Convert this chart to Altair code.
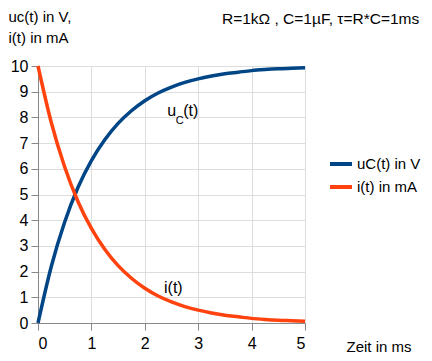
import altair as alt
import pandas as pd

t_ms = [0, 0.25, 0.5, 0.75, 1, 1.25, 1.5, 1.75, 2, 2.25, 2.5, 2.75, 3, 3.25, 3.5, 3.75, 4, 4.25, 4.5, 4.75, 5]
u_c = [0, 2.21, 3.93, 5.28, 6.32, 7.13, 7.77, 8.26, 8.65, 8.95, 9.18, 9.36, 9.50, 9.61, 9.70, 9.76, 9.82, 9.86, 9.89, 9.91, 9.93]
i_ma = [10, 7.79, 6.07, 4.72, 3.68, 2.87, 2.23, 1.74, 1.35, 1.05, 0.82, 0.64, 0.50, 0.39, 0.30, 0.24, 0.18, 0.14, 0.11, 0.09, 0.07]
series = ["uC(t) in V", "i(t) in mA"]
colors = ["#004586", "#ff420e"]
x_ticks = [0, 1, 2, 3, 4, 5]
y_ticks = list(range(0, 11))

rows = []
for k, t in enumerate(t_ms):
    rows.append({"t": t, "v": u_c[k], "s": series[0]})
    rows.append({"t": t, "v": i_ma[k], "s": series[1]})
df = pd.DataFrame(rows)

FONT = "Liberation Sans"

x_enc = alt.X("t:Q", scale=alt.Scale(domain=[0, 5], nice=False),
              axis=alt.Axis(values=x_ticks, title="Zeit in ms", titleAngle=0,
                            titleX=308, titleY=28, titleAlign="left",
                            titleBaseline="alphabetic", titleFontWeight="normal",
                            titleFontSize=15, labelFontSize=16, labelPadding=5,
                            tickSize=7, labelColor="#000", titleColor="#000",
                            labelOverlap=False))
y_enc = alt.Y("v:Q", scale=alt.Scale(domain=[0, 10], nice=False),
              axis=alt.Axis(values=y_ticks, title=["uc(t) in V,", "i(t) in mA"],
                            titleAngle=0, titleX=-30, titleY=-45,
                            titleAlign="left", titleBaseline="alphabetic",
                            titleFontWeight="normal", titleFontSize=15,
                            titleLineHeight=21,
                            labelFontSize=16, labelPadding=3, tickSize=7,
                            labelColor="#000", titleColor="#000",
                            labelOverlap=False))

lines = alt.Chart(df).mark_line(strokeWidth=3.5, interpolate="monotone").encode(
    color=alt.Color("s:N", scale=alt.Scale(domain=series, range=colors),
                    sort=series,
                    legend=alt.Legend(title=None, orient="none", legendX=290,
                                      legendY=85, symbolType="stroke",
                                      symbolSize=484, symbolStrokeWidth=4,
                                      labelFontSize=15, labelOffset=3,
                                      rowPadding=2, padding=0,
                                      labelColor="#000")),
    detail="s:N",
)

ann_df = pd.DataFrame({
    "t": [2.42, 2.58, 2.72, 2.36],
    "v": [8.05, 7.75, 8.05, 1.15],
    "txt": ["u", "C", "(t)", "i(t)"],
    "size": [16, 11, 16, 16],
})
ann = alt.Chart(ann_df).mark_text(align="left", baseline="alphabetic", font=FONT,
                                  color="#000").encode(
    text="txt:N",
    size=alt.Size("size:Q", scale=None, legend=None),
)

title = alt.Chart(pd.DataFrame({"txt": ["R=1kΩ , C=1µF, τ=R*C=1ms"]})).mark_text(
    align="left", baseline="alphabetic", font=FONT, fontSize=15.5, color="#000"
).encode(x=alt.value(184), y=alt.value(-42), text="txt:N")

chart = alt.layer(
    alt.layer(lines, ann).encode(x=x_enc, y=y_enc), title
).properties(
    width=267, height=257,
    autosize=alt.AutoSizeParams(type="none"),
    padding={"left": 30, "top": 58, "right": 119, "bottom": 30},
).configure_view(stroke=None).configure_axis(
    gridColor="#b3b3b3", domainColor="#b3b3b3", tickColor="#b3b3b3",
    labelFont=FONT, titleFont=FONT, gridWidth=1, domainWidth=1,
).configure_legend(labelFont=FONT).configure(background="white")

chart.save("out.html", embed_options={"renderer": "svg", "actions": False})
